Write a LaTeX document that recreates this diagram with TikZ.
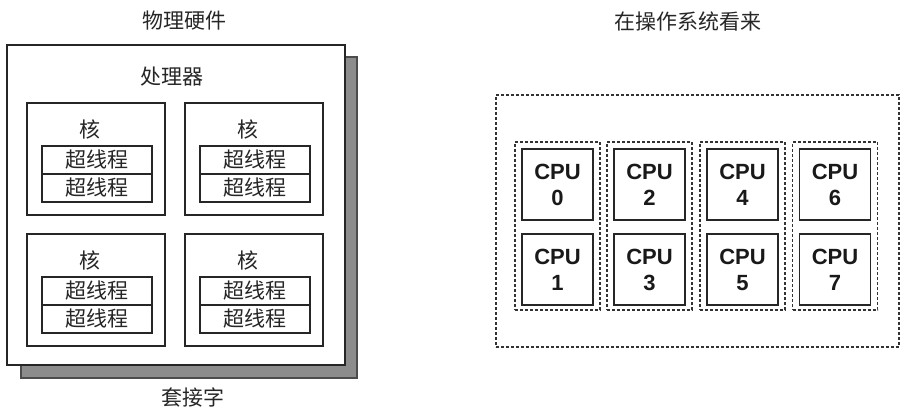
\documentclass[tikz,border=0pt]{standalone}
\usepackage{fontspec}
\setmainfont{Liberation Sans}
\newfontfamily\cjk{Noto Sans CJK SC}
\newfontfamily\cpufont{Liberation Sans}
\tikzset{
  box/.style={draw=black!85, line width=1.4pt, fill=white, inner sep=0pt},
  shadowbox/.style={draw=black!70, line width=1.4pt, fill=black!45, inner sep=0pt},
  corebox/.style={box, minimum width=138pt, minimum height=112pt},
  htbox/.style={box, line width=1.2pt, minimum width=110pt, minimum height=28pt, font=\cjk\fontsize{21}{23}\selectfont, text=black!85},
  cjklabel/.style={font=\cjk\fontsize{21}{23}\selectfont, text=black!85, inner sep=0pt},
  dotbox/.style={draw=black!80, line width=1.8pt, dash pattern=on 3pt off 2pt, inner sep=0pt},
  cpubox/.style={box, line width=1.5pt, minimum width=71pt, minimum height=71pt, align=center,
    font=\cpufont\bfseries\fontsize{22}{26}\selectfont, text=black!90}
}
\begin{document}
\begin{tikzpicture}[x=1pt,y=-1pt]
\useasboundingbox (0,0) rectangle (906,420);
% left: physical hardware
\node[cjklabel] (title1) at (184,21) {物理硬件};
\node[shadowbox, minimum width=336pt, minimum height=321pt] (shadow) at (189,217.5) {};
\node[box, minimum width=338pt, minimum height=320pt] (socket) at (176,205) {};
\node[cjklabel] (proc) at (172,77) {处理器};
\node[cjklabel] (sock) at (193,397) {套接字};
\foreach \i/\cx/\cy in {a/96/159, b/254/159, c/96/290, d/254/290}{
  \node[corebox] (core\i) at (\cx,\cy) {};
  \node[cjklabel] (corelab\i) at (\cx-6,\cy-30) {核};
  \node[htbox] (ht\i1) at (\cx+1,\cy+1) {超线程};
  \node[htbox] (ht\i2) at (\cx+1,\cy+29) {超线程};
}
% right: OS view
\node[cjklabel] (title2) at (688,21) {在操作系统看来};
\node[dotbox, minimum width=403pt, minimum height=252pt] (os) at (697.5,221) {};
\foreach \g/\cx/\a/\b in {1/557.5/0/1, 2/649.5/2/3, 3/742.5/4/5, 4/835/6/7}{
  \node[dotbox, minimum width=85pt, minimum height=168pt] (grp\g) at (\cx,226) {};
  \node[cpubox] (cpu\a) at (\cx,184.5) {CPU\\\a};
  \node[cpubox] (cpu\b) at (\cx,269.5) {CPU\\\b};
}
\end{tikzpicture}
\end{document}
